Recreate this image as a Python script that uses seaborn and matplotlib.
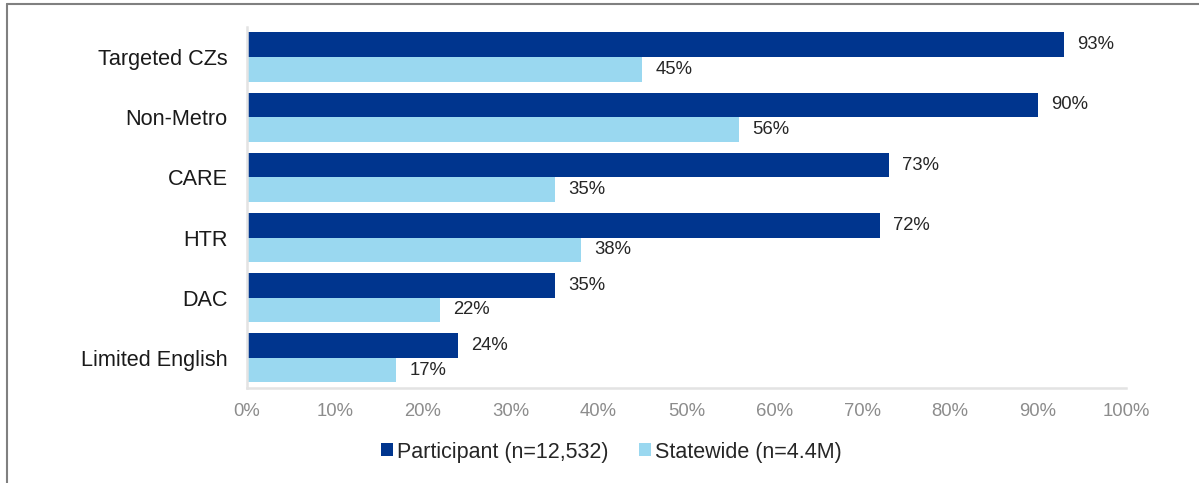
import matplotlib
matplotlib.use("Agg")
import matplotlib.pyplot as plt
from matplotlib.lines import Line2D
from matplotlib.ticker import FuncFormatter, MultipleLocator
import seaborn as sns
import pandas as pd

# Share of customers in each segment
categories = ["Targeted CZs", "Non-Metro", "CARE", "HTR", "DAC", "Limited English"]
participant = [93, 90, 73, 72, 35, 24]
statewide = [45, 56, 35, 38, 22, 17]
series_names = ["Participant (n=12,532)", "Statewide (n=4.4M)"]
colors = ["#00358E", "#9AD8F0"]

df = pd.DataFrame({
    "category": categories * 2,
    "share": participant + statewide,
    "series": [series_names[0]] * len(categories) + [series_names[1]] * len(categories),
})

sns.set_theme(style="white")
plt.rcParams["font.family"] = ["Liberation Sans", "DejaVu Sans"]

fig = plt.figure(figsize=(11.99, 4.83), dpi=100)
ax = fig.add_axes([0.206, 0.197, 0.733, 0.747])

sns.barplot(
    data=df, y="category", x="share", hue="series", order=categories,
    hue_order=series_names, palette=colors, saturation=1, width=0.82,
    orient="h", ax=ax, legend=True, errorbar=None, linewidth=0,
)

for container in ax.containers:
    ax.bar_label(container, fmt="%.0f%%", padding=9.5, fontsize=13.3, color="#262626")

ax.set_xlim(0, 100)
ax.set_ylim(len(categories) - 0.5, -0.5)
ax.xaxis.set_major_locator(MultipleLocator(10))
ax.xaxis.set_major_formatter(FuncFormatter(lambda v, _: f"{v:.0f}%"))
ax.set_xlabel("")
ax.set_ylabel("")
ax.tick_params(axis="x", length=0, pad=11, labelsize=13.3, labelcolor="#8c8c8c")
ax.tick_params(axis="y", length=0, pad=14, labelsize=15.6, labelcolor="#1a1a1a")

for side in ["top", "right"]:
    ax.spines[side].set_visible(False)
for side in ["left", "bottom"]:
    ax.spines[side].set_color("#e3e3e3")
    ax.spines[side].set_linewidth(1.8)

handles, labels = ax.get_legend_handles_labels()
ax.get_legend().remove()
fig.legend(
    handles, labels, loc="center", bbox_to_anchor=(0.51, 0.064), ncol=2,
    frameon=False, fontsize=15.5, handlelength=0.55, handleheight=0.55,
    handletextpad=0.2, columnspacing=1.4,
)

# Frame edges along the top and left of the figure
fig.add_artist(Line2D([0.0058, 1.0], [0.9917, 0.9917], transform=fig.transFigure,
                      color="#808080", linewidth=1.5))
fig.add_artist(Line2D([0.0058, 0.0058], [0.0, 0.9917], transform=fig.transFigure,
                      color="#808080", linewidth=1.5))

fig.savefig("out.png", dpi=100)
